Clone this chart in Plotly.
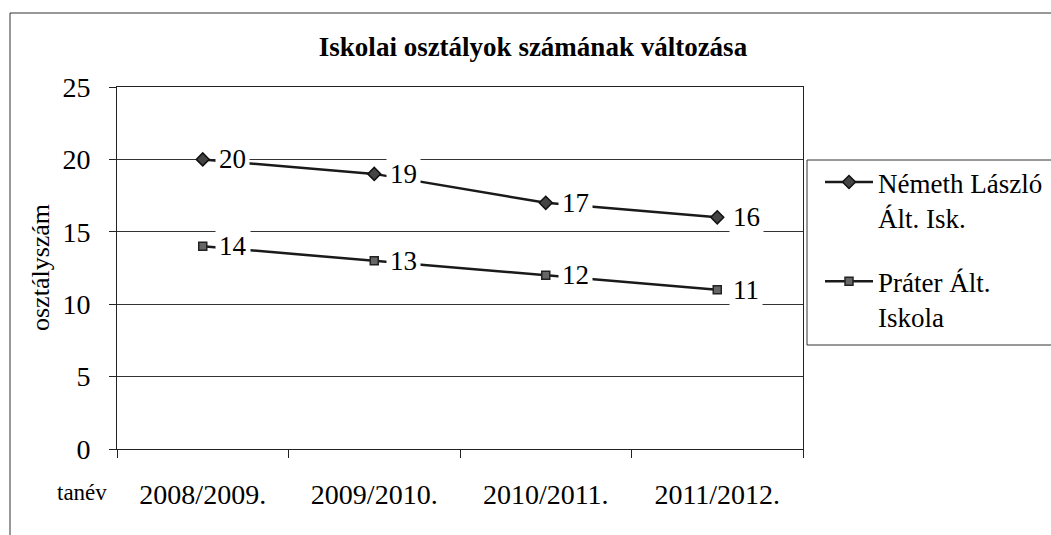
import plotly.graph_objects as go

categories = ["2008/2009.", "2009/2010.", "2010/2011.", "2011/2012."]
nemeth = [20, 19, 17, 16]
prater = [14, 13, 12, 11]
series_names = ["Németh László<br>Ált. Isk.", "Práter Ált.<br>Iskola"]
y_ticks = [0, 5, 10, 15, 20, 25]
title_text = "Iskolai osztályok számának változása"
y_title = "osztályszám"
x_title = "tanév"

SERIF = "Liberation Serif"

W, H = 1051, 535
L, R, T, B = 117, 803, 87, 449
pw, ph = R - L, B - T


def px_x(px):
    return (px - L) / pw


def px_y(py):
    return (B - py) / ph


fig = go.Figure()
fig.add_trace(go.Scatter(
    x=categories, y=nemeth, name=series_names[0], mode="lines+markers",
    legendgroup="a",
    line=dict(color="#1a1a1a", width=2.5),
    marker=dict(symbol="diamond", size=10, color="#444", line=dict(color="#111", width=1.5)),
))
fig.add_trace(go.Scatter(
    x=categories, y=prater, name=series_names[1], mode="lines+markers",
    legendgroup="b",
    line=dict(color="#1a1a1a", width=2.5),
    marker=dict(symbol="square", size=8, color="#666", line=dict(color="#222", width=1.5)),
))

annotations = []
for series in (nemeth, prater):
    for c, v in zip(categories, series):
        annotations.append(dict(
            x=c, y=v, xref="x", yref="y", text=str(v), showarrow=False,
            xanchor="left", yanchor="middle", xshift=12,
            bgcolor="white", borderpad=3,
            font=dict(family=SERIF, size=27, color="black"),
        ))

annotations.append(dict(
    x=px_x(40), y=px_y(268), xref="paper", yref="paper", text=y_title,
    textangle=-90, showarrow=False, xanchor="center", yanchor="middle",
    font=dict(family=SERIF, size=26, color="black"),
))
annotations.append(dict(
    x=px_x(82), y=px_y(492), xref="paper", yref="paper", text=x_title,
    showarrow=False, xanchor="center", yanchor="middle",
    font=dict(family=SERIF, size=23, color="black"),
))

shapes = [
    # outer chart frame (top and left edges)
    dict(type="line", xref="paper", yref="paper", x0=px_x(10), x1=px_x(1060),
         y0=px_y(13), y1=px_y(13), line=dict(color="#333", width=1)),
    dict(type="line", xref="paper", yref="paper", x0=px_x(10), x1=px_x(10),
         y0=px_y(13), y1=px_y(540), line=dict(color="#333", width=1)),
    # legend box
    dict(type="rect", xref="paper", yref="paper", x0=px_x(807), x1=px_x(1060),
         y0=px_y(345), y1=px_y(160), line=dict(color="#333", width=1)),
]

fig.update_layout(
    width=W, height=H,
    margin=dict(l=L, r=W - R, t=T, b=H - B, autoexpand=False),
    paper_bgcolor="white", plot_bgcolor="white",
    title=dict(text="<b>" + title_text + "</b>", x=533 / W, xanchor="center",
               y=1 - 47 / H, yanchor="middle", yref="container",
               font=dict(family=SERIF, size=27, color="black")),
    font=dict(family=SERIF, color="black"),
    xaxis=dict(
        type="category", showline=True, linecolor="#222", linewidth=1, mirror=True,
        ticks="outside", tickson="boundaries", ticklen=8, tickcolor="#222",
        showgrid=False, tickfont=dict(family=SERIF, size=28, color="black"),
        ticklabelstandoff=20, range=[-0.5, 3.5],
    ),
    yaxis=dict(
        range=[0, 25], tickvals=y_ticks, showline=True, linecolor="#222", linewidth=1,
        mirror=True, ticks="outside", ticklen=7, tickcolor="#222",
        showgrid=True, gridcolor="#333", gridwidth=1, zeroline=False,
        tickfont=dict(family=SERIF, size=28, color="black"), ticklabelstandoff=13,
    ),
    showlegend=True,
    legend=dict(
        x=px_x(820), y=px_y(158), xanchor="left", yanchor="top",
        bgcolor="rgba(0,0,0,0)", borderwidth=0, itemwidth=48, valign="top",
        font=dict(family=SERIF, size=27, color="black"), tracegroupgap=26,
    ),
    annotations=annotations,
    shapes=shapes,
)

fig.write_html("out.html", config={"displayModeBar": False},
               post_script="document.body.style.margin='0';")
